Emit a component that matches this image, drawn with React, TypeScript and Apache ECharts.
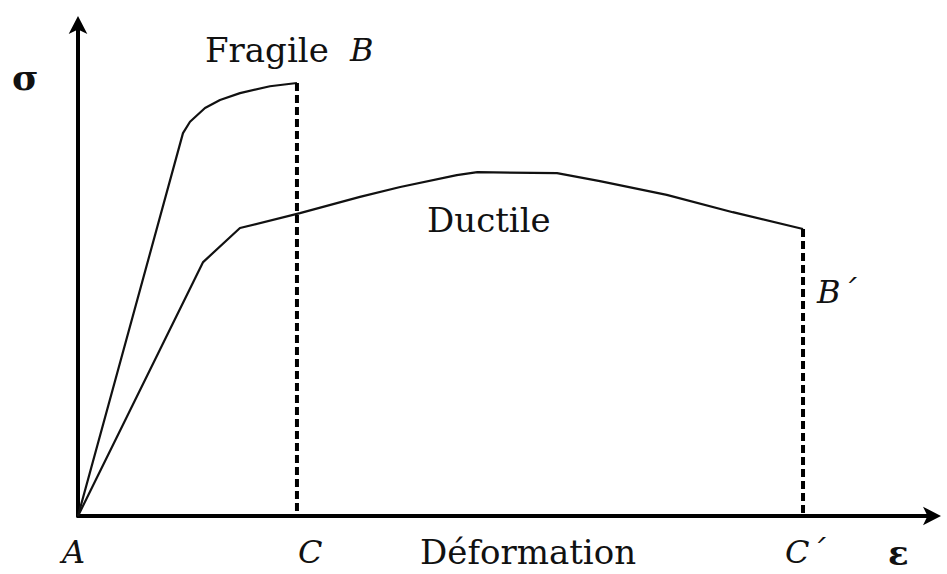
import React, { useEffect, useRef } from "react";
import * as echarts from "echarts";

// Stress–strain curves (arbitrary units, x: strain 0..100, y: stress 0..100)
const fragileX = [0, 12.25, 13.07, 14.82, 16.57, 18.9, 22.4, 25.55];
const fragileY = [0, 77.5, 79.8, 82.6, 84.2, 85.6, 87.0, 87.65];

const ductileX = [0, 14.6, 18.9, 25.9, 32.9, 37.6, 44.2, 46.6, 55.9, 60.9, 68.7, 76.4, 84.6];
const ductileY = [0, 51.4, 58.3, 61.3, 64.6, 66.6, 69.0, 69.6, 69.4, 67.8, 65.0, 61.5, 58.1];

// Rupture points (strain at break)
const ruptureFragile = [25.55, 87.65];
const ruptureDuctile = [84.6, 58.1];

const SERIF = "'DejaVu Serif', 'Liberation Serif', serif";

const zip = (xs: number[], ys: number[]) => xs.map((x, i) => [x, ys[i]]);

export default function App() {
  const ref = useRef<HTMLDivElement>(null);
  useEffect(() => {
    if (!ref.current) return;
    const chart = echarts.init(ref.current, undefined, { renderer: "svg" });
    const axisCommon = {
      type: "value" as const,
      min: 0,
      max: 100,
      axisLabel: { show: false },
      axisTick: { show: false },
      splitLine: { show: false },
      axisLine: {
        show: true,
        symbol: ["none", "arrow"],
        symbolSize: [14, 18],
        symbolOffset: [0, 6],
        lineStyle: { color: "#000", width: 4 },
      },
    };
    const txt = (text: string, x: number, y: number, size: number, opts: any = {}) => ({
      type: "text",
      x,
      y,
      style: {
        text,
        fill: "#111",
        font: `${opts.style || "normal"} ${opts.weight || "normal"} ${size}px ${SERIF}`,
        align: "left",
        verticalAlign: "middle",
      },
    });
    chart.setOption({
      animation: false,
      backgroundColor: "#fff",
      grid: { left: 78, right: 12, top: 22, bottom: 58 },
      xAxis: axisCommon,
      yAxis: axisCommon,
      series: [
        {
          type: "line",
          data: zip(fragileX, fragileY),
          symbol: "none",
          lineStyle: { color: "#111", width: 2.2 },
        },
        {
          type: "line",
          data: zip(ductileX, ductileY),
          symbol: "none",
          lineStyle: { color: "#111", width: 2.2 },
        },
        {
          type: "line",
          data: [ruptureFragile, [ruptureFragile[0], 0]],
          symbol: "none",
          lineStyle: { color: "#000", width: 4, type: [8, 4] },
        },
        {
          type: "line",
          data: [ruptureDuctile, [ruptureDuctile[0], 0]],
          symbol: "none",
          lineStyle: { color: "#000", width: 4, type: [8, 4] },
        },
      ],
      graphic: [
        txt("σ", 12, 77, 36, { weight: "bold" }),
        txt("Fragile", 205, 50, 34),
        txt("B", 350, 50, 32, { style: "italic" }),
        txt("Ductile", 427, 220, 34),
        txt("B´", 817, 292, 32, { style: "italic" }),
        txt("A", 62, 552, 32, { style: "italic" }),
        txt("C", 298, 552, 32, { style: "italic" }),
        txt("Déformation", 420, 552, 34),
        txt("C´", 785, 552, 32, { style: "italic" }),
        txt("ε", 888, 553, 34, { weight: "bold" }),
      ],
    });
    return () => chart.dispose();
  }, []);
  return (
    <div
      ref={ref}
      style={{ position: "fixed", left: 0, top: 0, width: 947, height: 574, background: "#fff" }}
    />
  );
}
